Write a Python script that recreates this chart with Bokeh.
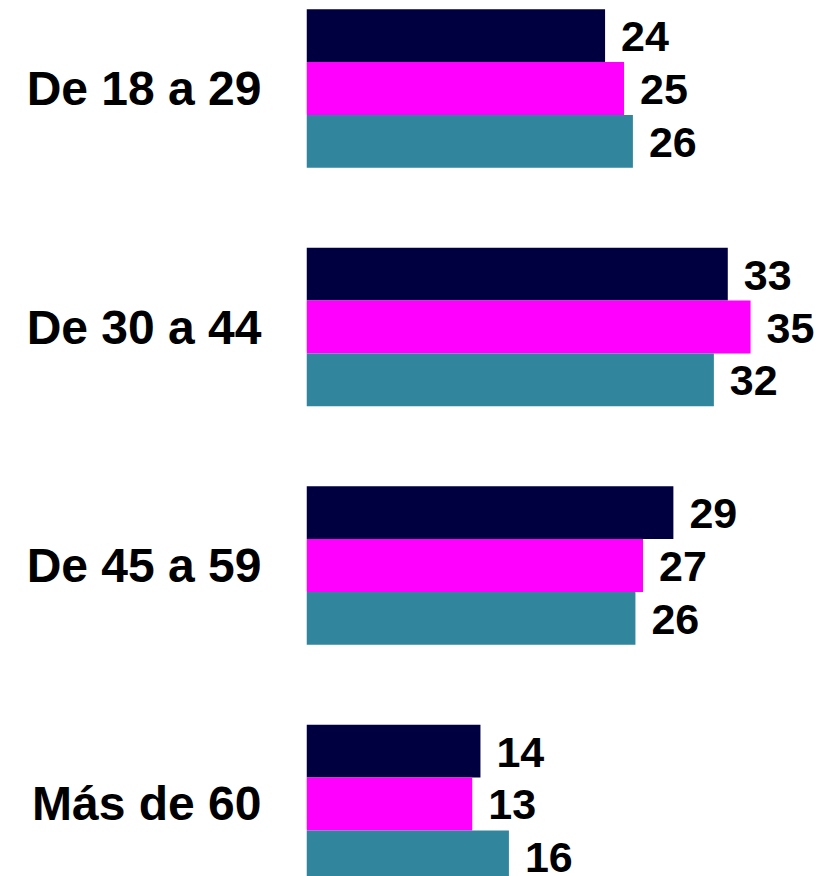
from bokeh.plotting import figure
from bokeh.models import Range1d, FixedTicker
from bokeh.core.properties import value
from bokeh.embed import file_html
from bokeh.resources import INLINE

# ---- data ----
categories = ["De 18 a 29", "De 30 a 44", "De 45 a 59", "Más de 60"]
values_1 = [23.6, 33.3, 29.0, 13.75]
values_2 = [25.1, 35.1, 26.6, 13.1]
values_3 = [25.8, 32.2, 26.0, 16.0]
labels_1 = [24, 33, 29, 14]
labels_2 = [25, 35, 27, 13]
labels_3 = [26, 32, 26, 16]
colors = ["#000040", "#FF00FF", "#31859C"]

series = [(values_1, labels_1), (values_2, labels_2), (values_3, labels_3)]
bar_h = 0.2214
offsets = [-bar_h, 0.0, bar_h]

p = figure(width=839, height=876,
           x_range=Range1d(0, 42.13), y_range=Range1d(3.304, -0.369),
           output_backend="svg", toolbar_location=None,
           min_border_left=306, min_border_right=0,
           min_border_top=0, min_border_bottom=0)

p.outline_line_color = None
p.xgrid.visible = False
p.ygrid.visible = False
p.xaxis.visible = False
p.background_fill_color = "white"
p.border_fill_color = "white"

idx = list(range(len(categories)))
for (vals, labs), off, col in zip(series, offsets, colors):
    ys = [i + off for i in idx]
    p.hbar(y=ys, left=0, right=vals, height=bar_h, fill_color=col, line_color=None)
    p.text(x=vals, y=ys, text=[str(l) for l in labs], x_offset=16, y_offset=1,
           text_baseline="middle", text_align="left",
           text_font=value("Liberation Sans"), text_font_style="bold",
           text_font_size="43px", text_color="black")

yaxis = p.yaxis[0]
yaxis.ticker = FixedTicker(ticks=idx)
yaxis.major_label_overrides = {i: c for i, c in zip(idx, categories)}
yaxis.axis_line_color = None
yaxis.major_tick_line_color = None
yaxis.minor_tick_line_color = None
yaxis.major_tick_out = 0
yaxis.major_tick_in = 0
yaxis.major_label_standoff = 45
yaxis.major_label_text_font = "Liberation Sans"
yaxis.major_label_text_font_style = "bold"
yaxis.major_label_text_font_size = "48px"
yaxis.major_label_text_color = "black"

open("out.html", "w").write(file_html(p, INLINE))
